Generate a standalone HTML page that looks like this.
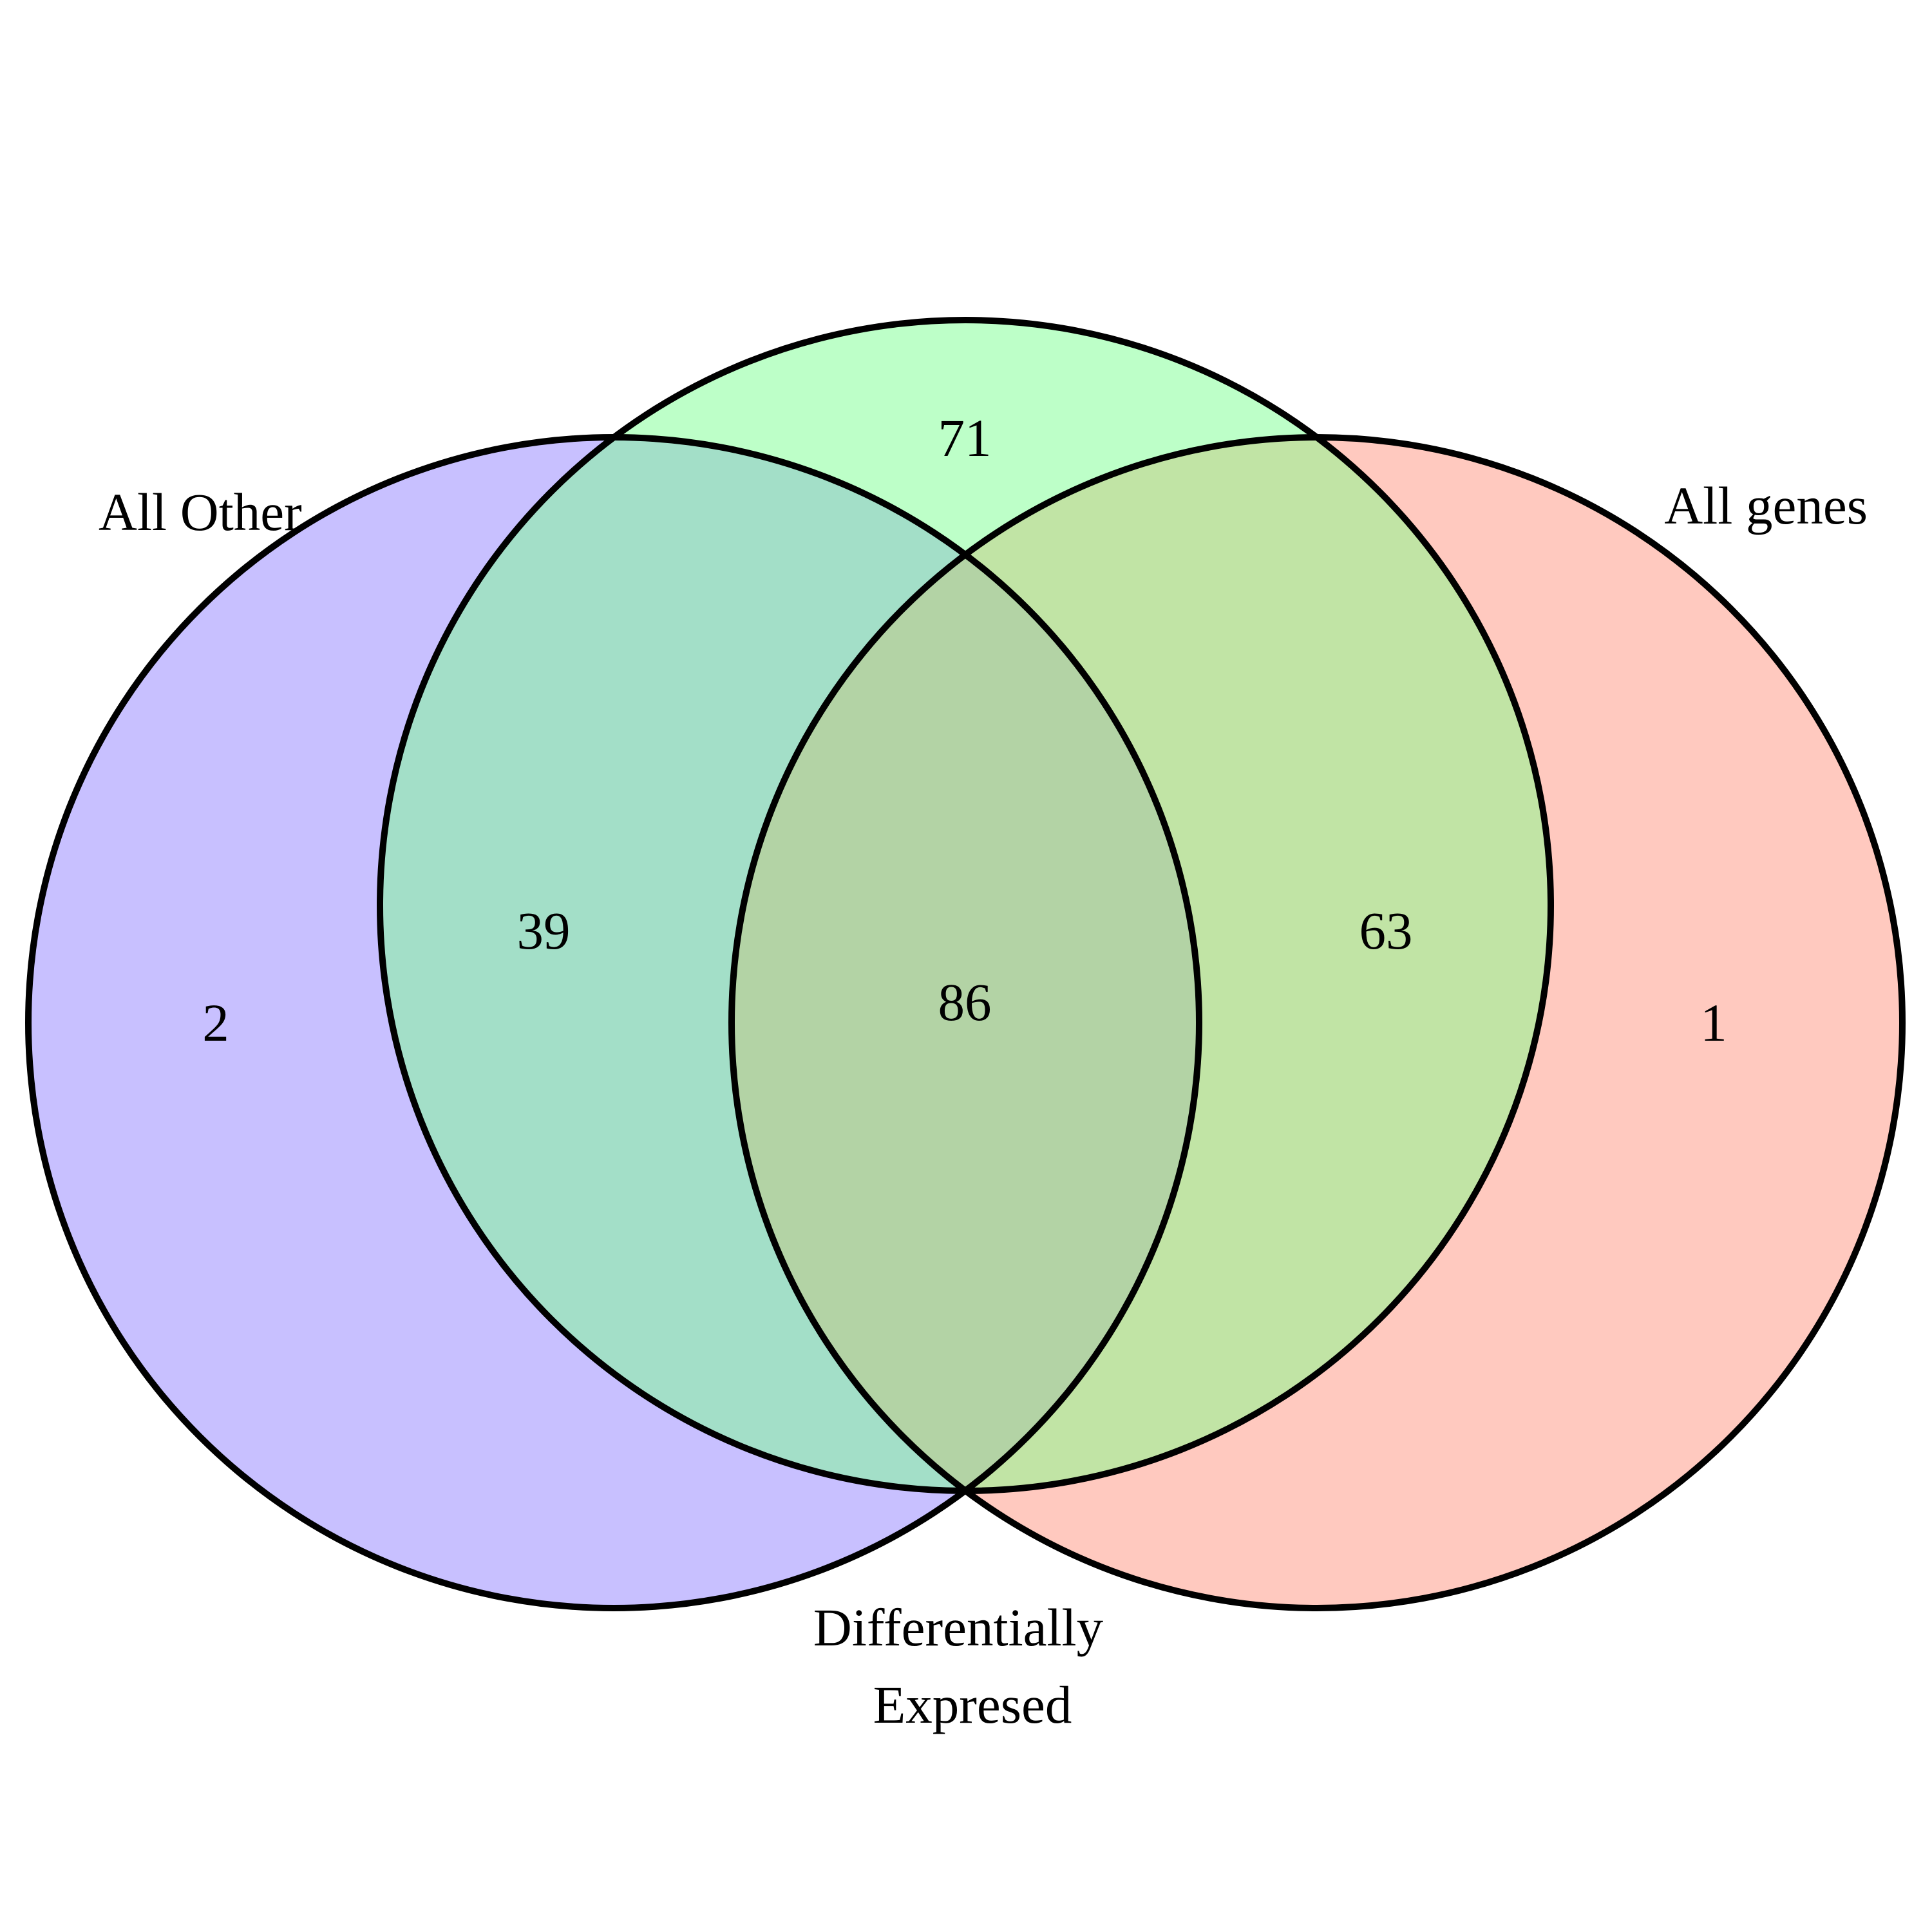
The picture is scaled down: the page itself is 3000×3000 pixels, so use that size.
<!DOCTYPE html>
<html><head><meta charset="utf-8"><style>
html,body{margin:0;padding:0;background:#fff;}
svg{display:block;}
text{font-family:"Liberation Serif",serif;font-size:83px;fill:#000;}
</style></head><body>
<svg id="venn" width="3000" height="3000" viewBox="0 0 3000 3000" xmlns="http://www.w3.org/2000/svg">
<defs>
<clipPath id="cA"><circle cx="953" cy="1588" r="909"/></clipPath>
<clipPath id="cB"><circle cx="1499" cy="1406" r="909"/></clipPath>
<clipPath id="cC"><circle cx="2045" cy="1588" r="909"/></clipPath>
</defs>
<g>
<circle cx="953" cy="1588" r="909" fill="#c8c0ff"/>
<circle cx="2045" cy="1588" r="909" fill="#ffc9bf"/>
<circle cx="1499" cy="1406" r="909" fill="#bdffc8"/>
<g clip-path="url(#cA)"><circle cx="1499" cy="1406" r="909" fill="#a3dfc8"/></g>
<g clip-path="url(#cC)"><circle cx="1499" cy="1406" r="909" fill="#c1e4a5"/></g>
<g clip-path="url(#cA)"><g clip-path="url(#cC)"><circle cx="2045" cy="1588" r="909" fill="#d8c4d8"/></g></g>
<g clip-path="url(#cA)"><g clip-path="url(#cC)"><circle cx="1499" cy="1406" r="909" fill="#b3d3a5"/></g></g>
</g>
<g fill="none" stroke="#000" stroke-width="10">
<circle cx="953" cy="1588" r="909"/>
<circle cx="1499" cy="1406" r="909"/>
<circle cx="2045" cy="1588" r="909"/>
</g>
<g id="counts" text-anchor="middle"></g>
<g>
<text x="153" y="823">All Other</text>
<text x="2900" y="813" text-anchor="end">All genes</text>
<text x="1488" y="2555" text-anchor="middle">Differentially</text>
<text x="1510" y="2675" text-anchor="middle">Expresed</text>
</g>
</svg>
<script>
const regionNames = ["only-all-other","other-and-diff","diff-only","all-three","genes-and-diff","only-all-genes"];
const regionCounts = [2, 39, 71, 86, 63, 1];
const anchors = [[335,1616],[844,1473],[1498,708],[1498,1584],[2152,1473],[2661,1616]];
const g = document.getElementById('counts');
regionCounts.forEach((v,i)=>{
  const t = document.createElementNS('http://www.w3.org/2000/svg','text');
  t.setAttribute('x', anchors[i][0]);
  t.setAttribute('y', anchors[i][1]);
  
  
  t.textContent = v;
  g.appendChild(t);
});
</script>
</body></html>
